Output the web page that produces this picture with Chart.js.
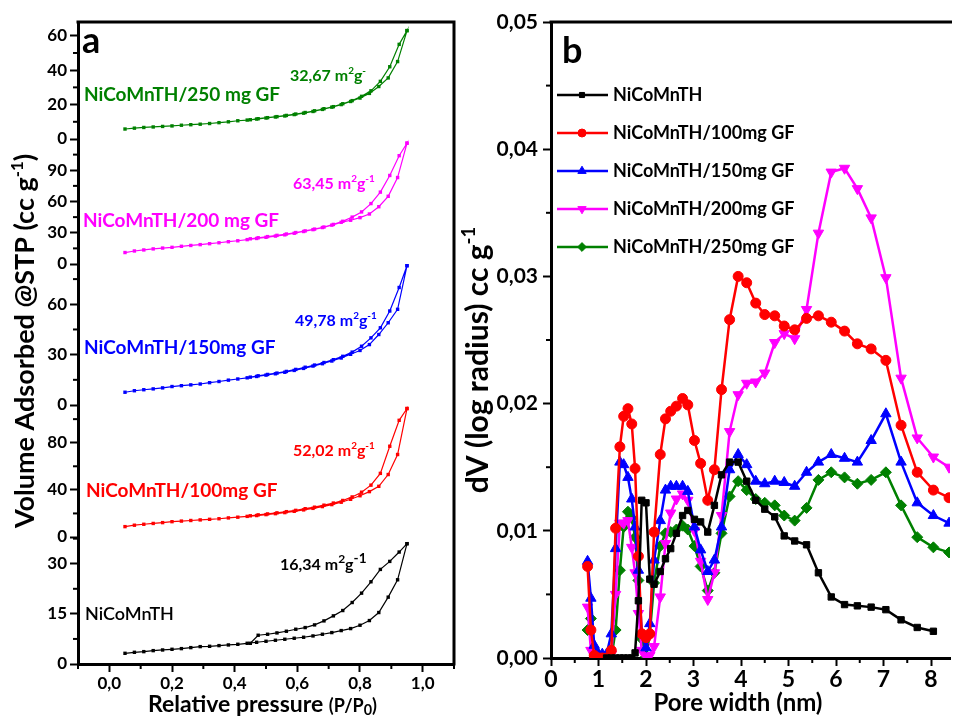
<!DOCTYPE html>
<html>
<head>
<meta charset="utf-8">
<title>Isotherms and pore size distribution</title>
<script src="https://cdn.jsdelivr.net/npm/chart.js@4.4.1/dist/chart.umd.min.js"></script>
<style>
  html, body { margin: 0; padding: 0; background: #fff; }
  #page { position: relative; width: 957px; height: 718px; overflow: hidden; background: #fff; }
  #isoChart { position: absolute; left: 0; top: 0; }
  #poreChart { position: absolute; left: 458px; top: 0; }
</style>
</head>
<body>
<div id="page">
  <canvas id="isoChart" width="458" height="718"></canvas>
  <canvas id="poreChart" width="499" height="718"></canvas>
</div>
<script>
const FONT = "Lato, 'Open Sans', sans-serif";
const BLACK = "#000000", RED = "#ff0000", BLUE = "#0000ff", MAGENTA = "#ff00ff", GREEN = "#008000";

// ---- panel a: N2 adsorption / desorption isotherms ----
const isoPressureAds = [0.05, 0.08, 0.11, 0.14, 0.17, 0.20, 0.23, 0.26, 0.29, 0.32, 0.35, 0.38, 0.41, 0.44, 0.47, 0.50,
  0.53, 0.56, 0.59, 0.62, 0.65, 0.68, 0.71, 0.74, 0.77, 0.80, 0.83, 0.86, 0.89, 0.92, 0.95];
const isoPressureDes = [0.95, 0.925, 0.895, 0.865, 0.835, 0.805, 0.775, 0.745, 0.715, 0.685, 0.655, 0.625, 0.595, 0.565,
  0.535, 0.505, 0.475, 0.45];

const ads0 = [3.2, 3.5, 3.7, 4.0, 4.2, 4.4, 4.6, 4.9, 5.2, 5.3, 5.5, 5.7, 5.9, 6.2, 6.5, 6.8, 7.1, 7.4, 7.7, 8.0, 8.4, 8.9,
  9.4, 10.0, 10.6, 11.6, 13.0, 15.4, 20.0, 25.2, 36.0];
const des0 = [36.0, 33.5, 30.7, 28.3, 24.6, 21.2, 18.4, 16.0, 14.4, 12.9, 11.7, 10.9, 10.4, 9.8, 9.3, 8.9, 8.6, 6.2];
const ads100 = [8.8, 10.0, 10.8, 11.5, 12.2, 13.0, 13.5, 14.0, 14.5, 15.0, 15.5, 16.2, 16.8, 17.5, 18.2, 19.0, 19.8, 20.7,
  21.8, 23.0, 24.3, 25.8, 27.5, 29.5, 32.0, 35.0, 38.5, 43.0, 53.0, 70.0, 109.0];
const des100 = [109, 99, 77, 54, 44, 38, 34, 31, 28.8, 27, 25.3, 24, 22.6, 21.5, 20.5, 19.6, 18.8, 18];
const ads150 = [7.6, 8.5, 9.1, 9.6, 10.2, 11.0, 11.5, 12.0, 12.5, 13.3, 14.0, 14.8, 15.5, 16.2, 17.0, 17.8, 18.6, 19.5,
  20.6, 21.8, 23.2, 24.6, 26.2, 28.0, 30.2, 32.5, 36.0, 42.0, 49.0, 57.0, 83.0];
const des150 = [83, 70, 56, 46, 40, 35, 31.5, 29, 27, 25.3, 23.8, 22.5, 21.2, 20, 19, 18.2, 17.4, 16.6];
const ads200 = [11.0, 12.5, 13.5, 14.5, 15.3, 16.0, 17.0, 17.8, 18.6, 19.5, 20.4, 21.4, 22.3, 23.4, 24.5, 25.6, 26.8, 28.0,
  29.5, 31.2, 33.0, 35.0, 37.3, 40.0, 42.0, 44.5, 48.0, 55.0, 65.0, 83.0, 116.0];
const des200 = [116, 104, 85, 69, 58, 50, 45, 41, 38, 35.5, 33.5, 31.8, 30.2, 28.8, 27.5, 26.3, 25.2, 24.2];
const ads250 = [5.8, 6.3, 6.7, 7.0, 7.3, 7.6, 8.0, 8.3, 8.6, 9.0, 9.5, 10.0, 10.6, 11.0, 11.6, 12.2, 12.8, 13.4, 14.2, 15.0,
  16.0, 17.2, 18.5, 20.0, 21.8, 23.8, 26.5, 30.5, 35.5, 45.0, 63.0];
const des250 = [63, 55, 42, 33.5, 28, 24.8, 22.3, 20.5, 18.8, 17.6, 16.4, 15.4, 14.5, 13.7, 13.0, 12.4, 11.8, 11.2];

const isoXTicks = [0, 0.2, 0.4, 0.6, 0.8, 1.0];
const isoXMinor = [-0.1, 0.1, 0.3, 0.5, 0.7, 0.9, 1.1];
const ticks0 = [0, 15, 30], minor0 = [7.5, 22.5, 37.5];
const ticks100 = [0, 40, 80], minor100 = [20, 60, 100];
const ticks150 = [0, 30, 60], minor150 = [15, 45, 75];
const ticks200 = [0, 30, 60, 90], minor200 = [15, 45, 75, 105];
const ticks250 = [0, 20, 40, 60], minor250 = [10, 30, 50];

// ---- panel b: pore size distribution ----
const poreWidth = [0.77, 0.84, 0.91, 1.00, 1.08, 1.17, 1.27, 1.36, 1.45, 1.53, 1.62, 1.70, 1.77, 1.84, 1.91, 2.00,
  2.08, 2.17, 2.30, 2.41, 2.52, 2.64, 2.77, 2.88, 3.02, 3.15, 3.30, 3.44, 3.59, 3.76, 3.94, 4.12, 4.31, 4.50, 4.71, 4.91,
  5.13, 5.38, 5.63, 5.90, 6.18, 6.45, 6.74, 7.05, 7.37, 7.71, 8.05, 8.38];
const dv0 = [null, null, null, null, null, 0, 0, 0, 0, 0, 0, 0, 0.0004, 0.0045, 0.0124, 0.0122,
  0.0062, 0.0058, 0.0068, 0.0078, 0.0086, 0.0098, 0.0112, 0.0116, 0.0109, 0.0107, 0.0099, 0.0120, 0.0144, 0.0154, 0.0154, 0.0139, 0.0124, 0.0117, 0.0111, 0.0096,
  0.0092, 0.0089, 0.0067, 0.0048, 0.0042, 0.0041, 0.0040, 0.0038, 0.0030, 0.0024, 0.0021, null];
const dv100 = [0.0072, 0.0022, 0.0002, 0, 0, 0, 0.0006, 0.0102, 0.0166, 0.0190, 0.0196, 0.0184, 0.0149, 0.0080, 0.0019, 0.0016,
  0.0019, 0.0099, 0.0160, 0.0188, 0.0194, 0.0198, 0.0204, 0.0199, 0.0171, 0.0153, 0.0124, 0.0148, 0.0211, 0.0266, 0.0300, 0.0295, 0.0279, 0.0270, 0.0269, 0.0261,
  0.0258, 0.0267, 0.0269, 0.0264, 0.0257, 0.0247, 0.0243, 0.0234, 0.0183, 0.0146, 0.0132, 0.0126];
const dv150 = [0.0076, 0.0047, 0.0010, 0.0003, 0.0003, 0.0003, 0.0019, 0.0086, 0.0154, 0.0152, 0.0142, 0.0125, 0.0103, 0.0069, 0.0019, 0.0008,
  0.0027, 0.0077, 0.0108, 0.0132, 0.0135, 0.0135, 0.0135, 0.0131, 0.0103, 0.0085, 0.0068, 0.0077, 0.0103, 0.0148, 0.0160, 0.0152, 0.0139, 0.0137, 0.0139, 0.0138,
  0.0135, 0.0146, 0.0154, 0.0160, 0.0157, 0.0154, 0.0171, 0.0192, 0.0154, 0.0122, 0.0112, 0.0106];
const dv200 = [0.0040, 0.0006, 0.0001, 0, 0, 0, 0.0003, 0.0050, 0.0106, 0.0106, 0.0108, 0.0087, 0.0067, 0.0035, 0.0006, 0.0001,
  0.0002, 0.0009, 0.0048, 0.0090, 0.0114, 0.0125, 0.0129, 0.0124, 0.0100, 0.0076, 0.0046, 0.0067, 0.0112, 0.0178, 0.0207, 0.0216, 0.0217, 0.0224, 0.0248, 0.0255,
  0.0251, 0.0274, 0.0334, 0.0382, 0.0385, 0.0369, 0.0346, 0.0299, 0.0220, 0.0173, 0.0158, 0.0150];
const dv250 = [0.0022, 0.0031, 0.0006, 0.0001, 0, 0, 0, 0.0022, 0.0069, 0.0103, 0.0115, 0.0110, 0.0095, 0.0061, 0.0015, 0.0001,
  0.0019, 0.0059, 0.0088, 0.0098, 0.0099, 0.0101, 0.0104, 0.0101, 0.0088, 0.0072, 0.0053, 0.0067, 0.0098, 0.0127, 0.0139, 0.0132, 0.0125, 0.0122, 0.0120, 0.0112,
  0.0108, 0.0118, 0.0140, 0.0146, 0.0142, 0.0137, 0.0140, 0.0146, 0.0120, 0.0095, 0.0087, 0.0083];

const poreXTicks = [0, 1, 2, 3, 4, 5, 6, 7, 8];
const poreXMinor = [0.5, 1.5, 2.5, 3.5, 4.5, 5.5, 6.5, 7.5];
const poreYTicks = [0, 0.01, 0.02, 0.03, 0.04, 0.05];
const poreYMinor = [0.005, 0.015, 0.025, 0.035, 0.045];

// ---- helpers ----
function drawParts(ctx, parts, x, y, size, weight) {
  let cx = x;
  for (const [t, mode, scale] of parts) {
    const s = mode ? size * (scale || 0.62) : size;
    ctx.font = `${weight || "bold"} ${s}px ${FONT}`;
    const dy = mode === "sup" ? -size * 0.42 : mode === "sub" ? size * 0.18 : 0;
    ctx.fillText(t, cx, y + dy);
    cx += ctx.measureText(t).width;
  }
  return cx - x;
}

function measureParts(ctx, parts, size, weight) {
  let w = 0;
  for (const [t, mode, scale] of parts) {
    const s = mode ? size * (scale || 0.62) : size;
    ctx.font = `${weight || "bold"} ${s}px ${FONT}`;
    w += ctx.measureText(t).width;
  }
  return w;
}

function drawRotated(ctx, parts, cx, cy, size) {
  ctx.save();
  ctx.translate(cx, cy);
  ctx.rotate(-Math.PI / 2);
  const w = measureParts(ctx, parts, size);
  drawParts(ctx, parts, -w / 2, 0, size);
  ctx.restore();
}

function seg(ctx, x1, y1, x2, y2) {
  ctx.beginPath();
  ctx.moveTo(x1, y1);
  ctx.lineTo(x2, y2);
  ctx.stroke();
}

const fixTicks = (list) => (scale) => { scale.ticks = list.map((v) => ({ value: v })); };

Chart.defaults.font.family = FONT;
Chart.defaults.font.weight = "bold";
Chart.defaults.color = "#000";

// ---- chart a ----
const isoSamples = [
  { id: "yK", color: BLACK, ads: ads0, des: des0, max: 38, weight: 127, ticks: ticks0, minor: minor0 },
  { id: "yR", color: RED, ads: ads100, des: des100, max: 112, weight: 132, ticks: ticks100, minor: minor100 },
  { id: "yB", color: BLUE, ads: ads150, des: des150, max: 84, weight: 141, ticks: ticks150, minor: minor150 },
  { id: "yM", color: MAGENTA, ads: ads200, des: des200, max: 120, weight: 125, ticks: ticks200, minor: minor200 },
  { id: "yG", color: GREEN, ads: ads250, des: des250, max: 68, weight: 117, ticks: ticks250, minor: minor250 }
];

const isoScales = {
  x: {
    type: "linear", min: -0.1, max: 1.1,
    afterBuildTicks: fixTicks(isoXTicks),
    afterFit: (s) => { s.height = 54; },
    border: { width: 3, color: "#000" },
    grid: { drawOnChartArea: false, tickLength: 8, tickWidth: 2, tickColor: "#000" },
    ticks: { font: { size: 17, weight: "bold" }, padding: 1, maxRotation: 0, autoSkip: false,
      callback: (v) => v.toFixed(1).replace(".", ",") }
  }
};
isoSamples.forEach((smp, i) => {
  isoScales[smp.id] = {
    type: "linear", position: "left", stack: "iso", stackWeight: smp.weight, weight: i,
    min: 0, max: smp.max,
    afterBuildTicks: fixTicks(smp.ticks),
    afterFit: (s) => { s.width = 78; },
    border: { width: 3, color: "#000" },
    grid: { drawOnChartArea: false, tickLength: 8, tickWidth: 2, tickColor: "#000" },
    ticks: { font: { size: 17, weight: "bold" }, padding: 3, autoSkip: false, callback: (v) => String(v) }
  };
});

const isoNotes = [
  { parts: [["NiCoMnTH/250 mg GF"]], x: 84, y: 101, size: 19, color: GREEN },
  { parts: [["32,67 m"], ["2", "sup"], ["g"], ["-", "sup"]], x: 290, y: 81, size: 16, color: GREEN },
  { parts: [["63,45 m"], ["2", "sup"], ["g"], ["-1", "sup"]], x: 293, y: 189, size: 16, color: MAGENTA },
  { parts: [["NiCoMnTH/200 mg GF"]], x: 83, y: 227, size: 19, color: MAGENTA },
  { parts: [["49,78 m"], ["2", "sup"], ["g"], ["-1", "sup"]], x: 295, y: 326, size: 16, color: BLUE },
  { parts: [["NiCoMnTH/150mg GF"]], x: 84, y: 354, size: 19, color: BLUE },
  { parts: [["52,02 m"], ["2", "sup"], ["g"], ["-1", "sup"]], x: 293, y: 456, size: 16, color: RED },
  { parts: [["NiCoMnTH/100mg GF"]], x: 86, y: 497, size: 19, color: RED },
  { parts: [["16,34 m"], ["2", "sup", 0.75], ["g"], ["-1", "sup", 0.85]], x: 280, y: 570, size: 16, color: BLACK },
  { parts: [["NiCoMnTH"]], x: 85, y: 620, size: 18, color: BLACK, weight: "600" }
];

const isoDecor = {
  id: "isoDecor",
  afterDraw(chart) {
    const { ctx, chartArea: a, scales } = chart;
    ctx.save();
    ctx.strokeStyle = "#000";
    ctx.lineWidth = 3;
    ctx.beginPath();
    ctx.moveTo(a.left - 1.5, a.top);
    ctx.lineTo(a.right, a.top);
    ctx.lineTo(a.right, a.bottom + 1.5);
    ctx.stroke();

    ctx.lineWidth = 2;
    isoXMinor.forEach((v) => {
      const x = scales.x.getPixelForValue(v);
      seg(ctx, x, a.bottom, x, a.bottom + 5);
    });
    isoSamples.forEach((smp) => smp.minor.forEach((v) => {
      const y = scales[smp.id].getPixelForValue(v);
      seg(ctx, a.left - 5, y, a.left, y);
    }));

    ctx.textBaseline = "alphabetic";
    ctx.textAlign = "left";
    isoNotes.forEach((n) => {
      ctx.fillStyle = n.color;
      drawParts(ctx, n.parts, n.x, n.y, n.size, n.weight);
    });

    ctx.fillStyle = "#000";
    ctx.font = `bold 36px ${FONT}`;
    ctx.fillText("a", 82, 53);
    const w1 = drawParts(ctx, [["Relative pressure "]], 148, 712, 23);
    drawParts(ctx, [["(P/P"], ["0", "sub", 0.8], [")"]], 148 + w1, 712, 18);
    drawRotated(ctx, [["Volume Adsorbed @STP (cc g"], ["-1", "sup"], [")"]], 34, 341, 27);
    ctx.restore();
  }
};

new Chart(document.getElementById("isoChart"), {
  type: "line",
  data: {
    datasets: isoSamples.map((smp) => ({
      yAxisID: smp.id,
      data: isoPressureAds.map((p, i) => ({ x: p, y: smp.ads[i] }))
        .concat(isoPressureDes.map((p, i) => ({ x: p, y: smp.des[i] }))),
      borderColor: smp.color,
      backgroundColor: smp.color,
      borderWidth: 1.2,
      pointStyle: "rect",
      pointRadius: 2.4,
      pointBorderWidth: 0,
      tension: 0
    }))
  },
  options: {
    responsive: false,
    animation: false,
    devicePixelRatio: 1,
    layout: { padding: { left: 0, top: 22, right: 3, bottom: 0 } },
    plugins: { legend: { display: false }, tooltip: { enabled: false } },
    scales: isoScales
  },
  plugins: [isoDecor]
});

// ---- chart b ----
const poreSeries = [
  { label: "NiCoMnTH", color: BLACK, values: dv0, style: "rect", radius: 4.5, rotation: 0 },
  { label: "NiCoMnTH/100mg GF", color: RED, values: dv100, style: "circle", radius: 5, rotation: 0 },
  { label: "NiCoMnTH/150mg GF", color: BLUE, values: dv150, style: "triangle", radius: 6, rotation: 0 },
  { label: "NiCoMnTH/200mg GF", color: MAGENTA, values: dv200, style: "triangle", radius: 6, rotation: 180 },
  { label: "NiCoMnTH/250mg GF", color: GREEN, values: dv250, style: "rectRot", radius: 5.5, rotation: 0 }
];

const poreDecor = {
  id: "poreDecor",
  afterDraw(chart) {
    const { ctx, chartArea: a, scales } = chart;
    ctx.save();
    ctx.strokeStyle = "#000";
    ctx.lineWidth = 3;
    seg(ctx, a.left - 1.5, a.top, a.right + 2, a.top);

    ctx.lineWidth = 2;
    poreXMinor.forEach((v) => {
      const x = scales.x.getPixelForValue(v);
      seg(ctx, x, a.bottom, x, a.bottom + 5);
    });
    poreYMinor.forEach((v) => {
      const y = scales.y.getPixelForValue(v);
      seg(ctx, a.left - 5, y, a.left, y);
    });

    // legend
    ctx.textBaseline = "middle";
    poreSeries.forEach((s, i) => {
      const y = 95 + i * 38;
      ctx.strokeStyle = s.color;
      ctx.fillStyle = s.color;
      ctx.lineWidth = 2.5;
      seg(ctx, 99, y, 150, y);
      ctx.lineWidth = 1;
      Chart.helpers.drawPoint(ctx, { pointStyle: s.style, radius: s.radius * 0.8, rotation: s.rotation, borderWidth: 1 }, 124, y);
      ctx.fillStyle = "#000";
      drawParts(ctx, [[s.label]], 155, y, 18);
    });

    ctx.textBaseline = "alphabetic";
    ctx.fillStyle = "#000";
    ctx.font = `bold 36px ${FONT}`;
    ctx.fillText("b", 104, 63);
    const w = measureParts(ctx, [["Pore width (nm)"]], 24);
    drawParts(ctx, [["Pore width (nm)"]], 280 - w / 2, 711, 24);
    drawRotated(ctx, [["dV (log radius) cc g"], ["-1", "sup"]], 30, 360, 30);
    ctx.restore();
  }
};

new Chart(document.getElementById("poreChart"), {
  type: "line",
  data: {
    datasets: poreSeries.map((s) => ({
      label: s.label,
      data: poreWidth.map((w, i) => ({ x: w, y: s.values[i] })),
      borderColor: s.color,
      backgroundColor: s.color,
      borderWidth: 2.5,
      pointStyle: s.style,
      pointRotation: s.rotation,
      pointRadius: s.radius,
      pointBorderWidth: 1,
      spanGaps: false,
      tension: 0
    }))
  },
  options: {
    responsive: false,
    animation: false,
    devicePixelRatio: 1,
    layout: { padding: { left: 0, top: 22, right: 0, bottom: 0 } },
    plugins: { legend: { display: false }, tooltip: { enabled: false } },
    scales: {
      x: {
        type: "linear", min: 0, max: 8.4,
        afterBuildTicks: fixTicks(poreXTicks),
        afterFit: (s) => { s.height = 60; },
        border: { width: 3, color: "#000" },
        grid: { drawOnChartArea: false, tickLength: 8, tickWidth: 2, tickColor: "#000" },
        ticks: { font: { size: 23, weight: "bold" }, padding: 0, maxRotation: 0, autoSkip: false, callback: (v) => String(v) }
      },
      y: {
        type: "linear", min: 0, max: 0.05,
        afterBuildTicks: fixTicks(poreYTicks),
        afterFit: (s) => { s.width = 93; },
        border: { width: 3, color: "#000" },
        grid: { drawOnChartArea: false, tickLength: 8, tickWidth: 2, tickColor: "#000" },
        ticks: { font: { size: 21, weight: "bold" }, padding: 5, autoSkip: false, callback: (v) => v.toFixed(2).replace(".", ",") }
      }
    }
  },
  plugins: [poreDecor]
});
</script>
</body>
</html>
